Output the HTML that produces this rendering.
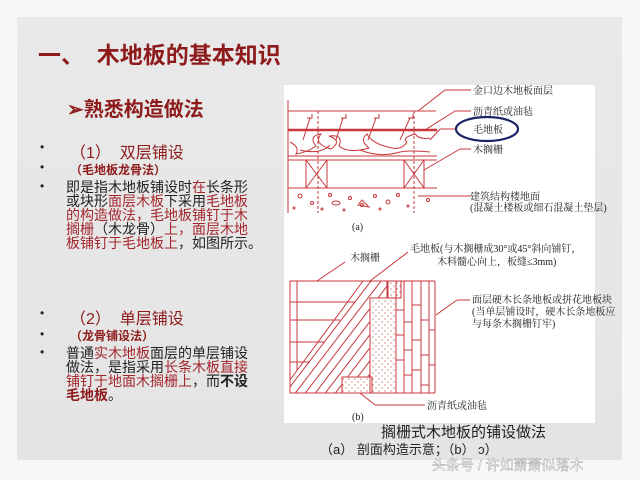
<!DOCTYPE html>
<html><head><meta charset="utf-8"><style>
html,body{margin:0;padding:0;}
body{width:640px;height:480px;background:#f7f7f7;position:relative;overflow:hidden;font-family:"Liberation Sans","Noto Sans CJK SC",sans-serif;}
#slide{position:absolute;left:17px;top:17px;width:605px;height:443px;background:linear-gradient(180deg,#e9e9e9,#e4e4e4);}
.t{position:absolute;white-space:nowrap;}
.r{color:#a3262c;}
.d{color:#8e1b1b;}
.k{color:#222;}
.p{font-size:14px;line-height:14px;}
</style></head><body>
<div id="slide"></div>
<div class="t d" style="left:38px;top:36px;font-size:23px;font-weight:bold;">一、&nbsp; 木地板的基本知识</div>
<div class="t d" style="left:67px;top:93px;font-size:20px;font-weight:bold;">➢熟悉构造做法</div>

<div class="t k" style="left:40px;top:140px;font-size:12px;">•</div>
<div class="t d" style="left:70px;top:139px;font-size:16px;">（1）&nbsp; 双层铺设</div>
<div class="t k" style="left:40px;top:160px;font-size:12px;">•</div>
<div class="t d" style="left:70px;top:161px;font-size:12px;font-weight:bold;">（毛地板龙骨法）</div>
<div class="t k" style="left:40px;top:179px;font-size:12px;">•</div>
<div class="t p k" style="left:66px;top:180px;">即是指木地板铺设时<span class="r">在</span>长条形<br>或块形<span class="r">面层木板</span>下采用<span class="r">毛地板</span><br><span class="r">的构造做法，毛地板铺钉于木</span><br><span class="r">搁栅</span>（木龙骨）<span class="r">上，面层木地</span><br><span class="r">板铺钉于毛地板上</span>，如图所示。</div>

<div class="t k" style="left:40px;top:306px;font-size:12px;">•</div>
<div class="t d" style="left:70px;top:305px;font-size:16px;">（2）&nbsp; 单层铺设</div>
<div class="t k" style="left:40px;top:327px;font-size:12px;">•</div>
<div class="t d" style="left:70px;top:327px;font-size:12px;font-weight:bold;">（龙骨铺设法）</div>
<div class="t k" style="left:40px;top:345px;font-size:12px;">•</div>
<div class="t p k" style="left:66px;top:346px;">普通<span class="r">实木地板</span>面层的单层铺设<br>做法，是指采用<span class="r">长条木板直接</span><br><span class="r">铺钉于地面木搁栅上</span>，而<b>不设</b><br><b class="d">毛地板</b>。</div>

<svg style="position:absolute;left:0;top:0" width="640" height="480">
<defs>
<clipPath id="hc"><polygon points="290,380 363,281 387,281 387,298 370,298 370,377 342,377 342,393 290,393"/></clipPath>
<pattern id="dots" width="6" height="6" patternUnits="userSpaceOnUse"><circle cx="1" cy="1" r="0.6" fill="#b44"/><circle cx="4" cy="4" r="0.6" fill="#b44"/></pattern>
</defs>
<rect x="284" y="85" width="311" height="338" fill="#fff"/>
<g stroke="#c8373c" fill="none" stroke-width="1">
<!-- (a) -->
<line x1="288" y1="100" x2="288" y2="213"/>
<line x1="288" y1="111" x2="436" y2="111"/>
<line x1="288" y1="130" x2="437" y2="130" stroke-width="2.5"/>
<line x1="288" y1="156" x2="437" y2="156"/>
<line x1="288" y1="160" x2="437" y2="160"/>
<line x1="288" y1="188" x2="437" y2="188"/>
<rect x="306" y="160" width="21" height="28"/><line x1="306" y1="160" x2="327" y2="188"/><line x1="327" y1="160" x2="306" y2="188"/>
<rect x="404" y="160" width="20" height="28"/><line x1="404" y1="160" x2="424" y2="188"/><line x1="424" y1="160" x2="404" y2="188"/>
<line x1="318" y1="111" x2="318" y2="213" stroke-dasharray="3 2"/>
<line x1="414" y1="111" x2="414" y2="213" stroke-dasharray="3 2"/>
<path d="M307,118 h5 v-4 M341,118 h5 v-4 M374,118 h5 v-4 M408,118 h5 v-4"/>
<path d="M303,140 L310,118 M336,140 L343,118 M368,140 L376,118 M400,140 L410,118"/>
<path d="M290,142 q10,5 6,12 q12,-2 20,-8 q-8,-10 5,-12 q-8,10 10,15 q12,-8 -2,-13 q15,-2 10,10 q10,8 30,2 q-10,-8 -2,-14 q5,10 25,14 q10,2 15,-6 q-6,-4 8,-8 q5,6 15,4"/>
<path d="M300,150 q20,5 30,-5 M360,150 q20,8 40,2 q10,-2 30,0"/>
<g fill="none"><circle cx="300" cy="196" r="2"/><circle cx="312" cy="203" r="1.5"/><circle cx="330" cy="195" r="1.5"/><ellipse cx="336" cy="203" rx="4" ry="2"/><circle cx="350" cy="198" r="1.5"/><circle cx="362" cy="205" r="1.5"/><path d="M358,205 l4,-5 l4,4 l3,3 z"/><circle cx="375" cy="196" r="1.5"/><circle cx="388" cy="202" r="2"/><circle cx="398" cy="195" r="1.5"/><circle cx="428" cy="200" r="1.5"/><circle cx="294" cy="208" r="1"/><circle cx="322" cy="209" r="1"/><circle cx="344" cy="210" r="1"/><circle cx="380" cy="209" r="1"/><circle cx="408" cy="206" r="1"/></g>
<line x1="471" y1="90" x2="445" y2="90"/><line x1="445" y1="90" x2="418" y2="111"/>
<line x1="471" y1="111" x2="455" y2="111"/><line x1="455" y1="111" x2="425" y2="130"/>
<line x1="456" y1="129" x2="440" y2="129"/><line x1="440" y1="129" x2="430" y2="140"/>
<line x1="471" y1="149" x2="460" y2="149"/><line x1="460" y1="149" x2="424" y2="170"/>
<line x1="471" y1="196" x2="418" y2="196"/>
<!-- (b) -->
<line x1="345" y1="262" x2="317" y2="281"/>
<line x1="408" y1="252" x2="370" y2="281"/>
<line x1="470" y1="300" x2="457" y2="300"/><line x1="457" y1="300" x2="436" y2="315"/>
<line x1="425" y1="405" x2="375" y2="405"/><line x1="375" y1="405" x2="360" y2="393"/>
<line x1="290" y1="281" x2="435" y2="281"/>
<line x1="290" y1="393" x2="435" y2="393"/>
<line x1="290" y1="281" x2="290" y2="393"/>
<line x1="297" y1="281" x2="297" y2="370"/>
<line x1="290" y1="302" x2="355" y2="302"/>
<line x1="290" y1="320" x2="340" y2="320"/>
<line x1="290" y1="342" x2="325" y2="342"/>
<line x1="290" y1="362" x2="310" y2="362"/>
<g clip-path="url(#hc)">
<path d="M250,400 L380,230 M260,400 L390,230 M270,400 L400,230 M280,400 L410,230 M290,400 L420,230 M300,400 L430,230 M310,400 L440,230 M320,400 L450,230 M330,400 L460,230 M340,400 L470,230 M350,400 L480,230 M360,400 L490,230 M370,400 L500,230 M240,400 L370,230 M230,400 L360,230"/>
</g>
<polygon points="290,380 363,281 387,281 387,298 370,298 370,377 342,377 342,393 290,393"/>
<rect x="370" y="298" width="26" height="95" fill="url(#dots)"/>
<rect x="388" y="281" width="13" height="17" fill="url(#dots)"/>
<rect x="342" y="377" width="30" height="16" fill="url(#dots)"/>
<line x1="396" y1="281" x2="396" y2="393"/><line x1="404" y1="281" x2="404" y2="393"/><line x1="412" y1="281" x2="412" y2="393"/><line x1="421" y1="281" x2="421" y2="393"/><line x1="429" y1="281" x2="429" y2="393"/><line x1="435" y1="281" x2="435" y2="393"/>
<path d="M396,310 h8 M404,322 h8 M412,305 h9 M421,320 h8 M429,330 h6 M396,335 h8 M404,350 h8 M412,340 h9 M421,355 h8 M429,365 h6 M396,360 h8 M404,375 h8 M412,370 h9 M421,385 h8"/>
</g>
<ellipse cx="487" cy="129" rx="31" ry="12" fill="none" stroke="#1a2466" stroke-width="2.2"/>
<g font-family="Liberation Serif,'Noto Serif CJK SC',serif" font-size="10" fill="#222">
<text x="473" y="94">金口边木地板面层</text>
<text x="473" y="115">沥青纸或油毡</text>
<text x="473" y="133">毛地板</text>
<text x="473" y="153">木搁栅</text>
<text x="470" y="200">建筑结构楼地面</text>
<text x="470" y="211">(混凝土楼板或细石混凝土垫层)</text>
<text x="352" y="230">(a)</text>
<text x="350" y="261">木搁栅</text>
<text x="410" y="252">毛地板(与木搁栅成30°或45°斜向铺钉，</text>
<text x="437" y="265">木料髓心向上，板缝≤3mm)</text>
<text x="472" y="303">面层硬木长条地板或拼花地板块</text>
<text x="472" y="315">(当单层铺设时，硬木长条地板应</text>
<text x="472" y="327">与每条木搁栅钉牢)</text>
<text x="427" y="409">沥青纸或油毡</text>
<text x="352" y="420">(b)</text>
</g>
<g font-family="Liberation Sans,'Noto Sans CJK SC',sans-serif" fill="#222">
<text x="381" y="437" font-size="15">搁栅式木地板的铺设做法</text>
<text x="320" y="454" font-size="13">（a） 剖面构造示意；（b） ɔ）</text>
<text x="432" y="470" font-size="14" fill="#fff" stroke="#999" stroke-width="0.4">头条号 / 许如萧萧似落木</text>
</g>
</svg>
</body></html>
